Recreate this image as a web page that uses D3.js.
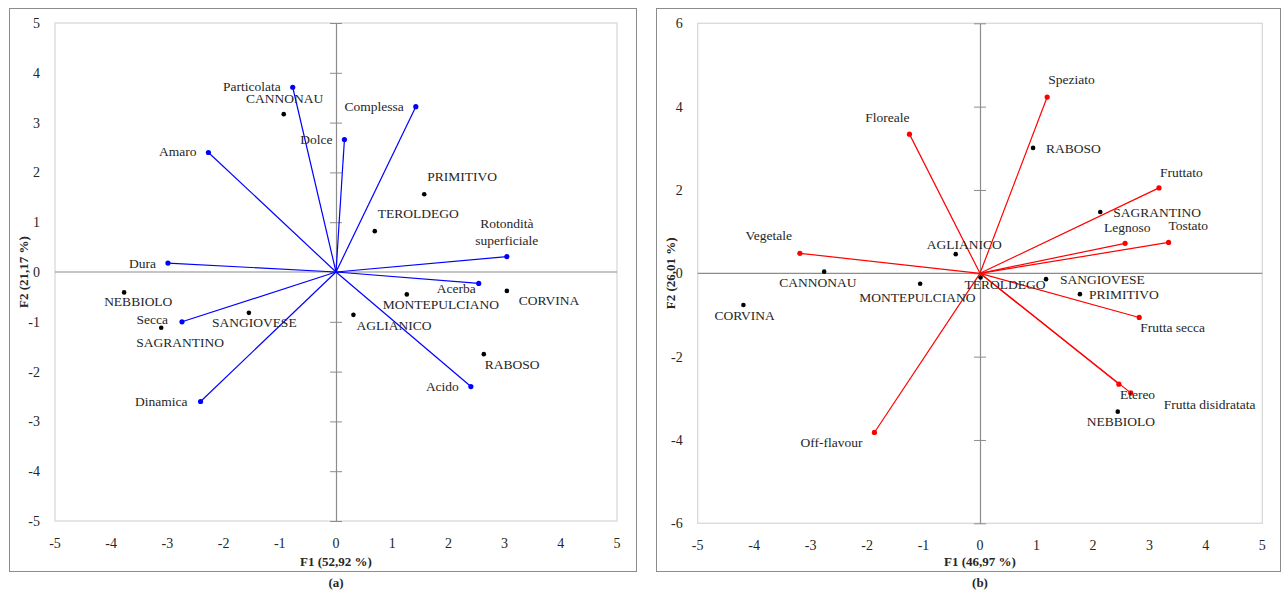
<!DOCTYPE html>
<html>
<head>
<meta charset="utf-8">
<script src="https://cdn.jsdelivr.net/npm/d3@7"></script>
<style>
  body { margin: 0; background: #fff; }
  svg text { font-family: "Liberation Serif", "Times New Roman", serif; fill: #262626; }
  .tick-label { font-size: 14px; }
  .mark-label { font-size: 13.5px; }
  .axis-title { font-size: 13px; font-weight: bold; }
</style>
</head>
<body>
<svg id="chart" width="1282" height="591"></svg>
<script>
// ---- data: panel (a) ----
const winesA = ['CANNONAU', 'PRIMITIVO', 'TEROLDEGO', 'CORVINA', 'MONTEPULCIANO',
  'AGLIANICO', 'RABOSO', 'NEBBIOLO', 'SAGRANTINO', 'SANGIOVESE']
const winesAF1 = [-0.93, 1.57, 0.69, 3.04, 1.26, 0.31, 2.63, -3.77, -3.11, -1.55]
const winesAF2 = [3.17, 1.56, 0.82, -0.38, -0.45, -0.86, -1.65, -0.41, -1.12, -0.82]

const attrsA = ['Particolata', 'Dolce', 'Complessa', 'Amaro', 'Dura',
  'Rotondità superficiale', 'Acerba', 'Acido', 'Secca', 'Dinamica']
const attrsAF1 = [-0.77, 0.15, 1.42, -2.27, -2.99, 3.04, 2.54, 2.40, -2.74, -2.41]
const attrsAF2 = [3.71, 2.66, 3.32, 2.40, 0.18, 0.31, -0.23, -2.30, -1.00, -2.60]

// ---- data: panel (b) ----
const winesB = ['RABOSO', 'SAGRANTINO', 'AGLIANICO', 'CANNONAU', 'MONTEPULCIANO',
  'TEROLDEGO', 'SANGIOVESE', 'PRIMITIVO', 'CORVINA', 'NEBBIOLO']
const winesBF1 = [0.94, 2.13, -0.43, -2.76, -1.06, 0.01, 1.17, 1.77, -4.19, 2.44]
const winesBF2 = [3.01, 1.47, 0.46, 0.04, -0.25, -0.10, -0.14, -0.50, -0.76, -3.32]

const attrsB = ['Speziato', 'Floreale', 'Fruttato', 'Legnoso', 'Tostato', 'Vegetale',
  'Frutta secca', 'Etereo', 'Frutta disidratata', 'Off-flavour']
const attrsBF1 = [1.19, -1.25, 3.17, 2.57, 3.34, -3.19, 2.82, 2.46, 2.67, -1.87]
const attrsBF2 = [4.23, 3.34, 2.05, 0.72, 0.74, 0.48, -1.06, -2.66, -2.87, -3.82]

const xTicks = [-5, -4, -3, -2, -1, 0, 1, 2, 3, 4, 5]
const yTicksA = [-5, -4, -3, -2, -1, 0, 1, 2, 3, 4, 5]
const yTicksB = [-6, -4, -2, 0, 2, 4, 6]

// label placement (anchor, dx, dy) relative to each mark, in pixels
const placeA = {
  CANNONAU: ['middle', 1, -11], PRIMITIVO: ['start', 3, -13], TEROLDEGO: ['start', 3, -13],
  CORVINA: ['start', 12, 14], MONTEPULCIANO: ['start', -24, 15], AGLIANICO: ['start', 3, 15],
  RABOSO: ['start', 1, 15], NEBBIOLO: ['start', -20, 14], SAGRANTINO: ['start', -25, 19],
  SANGIOVESE: ['start', -37, 14],
  Particolata: ['end', -12, 4], Dolce: ['end', -12, 4], Complessa: ['end', -12, 4],
  Amaro: ['end', -12, 4], Dura: ['end', -12, 5], 'Rotondità superficiale': ['middle', 0, -29],
  Acerba: ['end', -3, 10], Acido: ['end', -12, 4], Secca: ['end', -14, 2], Dinamica: ['end', -13, 5]
}
const placeB = {
  RABOSO: ['start', 13, 5], SAGRANTINO: ['start', 13, 5], AGLIANICO: ['start', -29, -5],
  CANNONAU: ['start', -45, 15], MONTEPULCIANO: ['start', -61, 18], TEROLDEGO: ['start', -16, 12],
  SANGIOVESE: ['start', 14, 5], PRIMITIVO: ['start', 9, 5], CORVINA: ['start', -29, 15],
  NEBBIOLO: ['start', -31, 14],
  Speziato: ['start', 1, -13], Floreale: ['end', 0, -12], Fruttato: ['start', 1, -11],
  Legnoso: ['start', -21, -11], Tostato: ['start', 0, -12], Vegetale: ['end', -8, -13],
  'Frutta secca': ['start', 1, 15], Etereo: ['start', 1, 15], 'Frutta disidratata': ['start', 33, 16],
  'Off-flavour': ['end', -12, 15]
}

const svg = d3.select('#chart')

function drawPanel(cfg) {
  const g = svg.append('g')

  // outer frame
  g.append('rect')
    .attr('x', cfg.frame[0] + 0.5).attr('y', cfg.frame[1] + 0.5)
    .attr('width', cfg.frame[2]).attr('height', cfg.frame[3])
    .attr('fill', 'none').attr('stroke', '#8c8c8c')

  const x = d3.scaleLinear().domain([-5, 5]).range([cfg.plot.left, cfg.plot.right])
  const y = d3.scaleLinear().domain(cfg.yDomain).range([cfg.plot.bottom, cfg.plot.top])

  // plot area border
  g.append('rect')
    .attr('x', x(-5)).attr('y', y(cfg.yDomain[1]))
    .attr('width', x(5) - x(-5)).attr('height', y(cfg.yDomain[0]) - y(cfg.yDomain[1]))
    .attr('fill', 'none').attr('stroke', '#d9d9d9').attr('stroke-width', 1.3)

  // zero lines
  g.append('line')
    .attr('x1', x(-5)).attr('x2', x(5)).attr('y1', y(0)).attr('y2', y(0))
    .attr('stroke', '#8c8c8c').attr('stroke-width', 1.2)
  const yAxis = d3.axisLeft(y).tickValues(cfg.yTicks).tickSize(6).tickFormat('').tickSizeOuter(0)
  const ya = g.append('g')
    .attr('transform', 'translate(' + x(0) + ',0)')
    .call(yAxis)
  ya.select('.domain').attr('stroke', '#8c8c8c').attr('stroke-width', 1.2)
  ya.selectAll('.tick line').attr('stroke', '#8c8c8c').attr('x1', 6).attr('x2', -6)

  // tick labels
  g.selectAll('text.xt').data(xTicks).join('text')
    .attr('class', 'tick-label xt')
    .attr('x', d => x(d)).attr('y', y(cfg.yDomain[0]) + 27)
    .attr('text-anchor', 'middle')
    .text(d => d)
  g.selectAll('text.yt').data(cfg.yTicks).join('text')
    .attr('class', 'tick-label yt')
    .attr('x', x(-5) - 15).attr('y', d => y(d) + 5)
    .attr('text-anchor', 'end')
    .text(d => d)

  // axis titles
  g.append('text').attr('class', 'axis-title')
    .attr('x', x(0)).attr('y', 566).attr('text-anchor', 'middle')
    .text(cfg.xTitle)
  g.append('text').attr('class', 'axis-title')
    .attr('transform', 'translate(' + cfg.yTitleX + ',' + y(0) + ') rotate(-90)')
    .attr('text-anchor', 'middle')
    .text(cfg.yTitle)
  g.append('text').attr('class', 'axis-title')
    .attr('x', x(0)).attr('y', 587).attr('text-anchor', 'middle')
    .text(cfg.caption)

  const attrs = cfg.attrs.map((name, i) => ({name, f1: cfg.attrsF1[i], f2: cfg.attrsF2[i]}))
  const wines = cfg.wines.map((name, i) => ({name, f1: cfg.winesF1[i], f2: cfg.winesF2[i]}))

  // vectors
  g.selectAll('line.vec').data(attrs).join('line')
    .attr('class', 'vec')
    .attr('x1', x(0)).attr('y1', y(0))
    .attr('x2', d => x(d.f1)).attr('y2', d => y(d.f2))
    .attr('stroke', cfg.colour).attr('stroke-width', 1.2)
  g.selectAll('circle.vec-end').data(attrs).join('circle')
    .attr('class', 'vec-end')
    .attr('cx', d => x(d.f1)).attr('cy', d => y(d.f2)).attr('r', 2.6)
    .attr('fill', cfg.colour)

  // wine points
  g.selectAll('circle.wine').data(wines).join('circle')
    .attr('class', 'wine')
    .attr('cx', d => x(d.f1)).attr('cy', d => y(d.f2)).attr('r', 2.3)
    .attr('fill', '#000')

  // labels
  const all = attrs.concat(wines)
  all.forEach(d => {
    const p = cfg.place[d.name]
    const t = g.append('text').attr('class', 'mark-label')
      .attr('text-anchor', p[0])
      .attr('x', x(d.f1) + p[1]).attr('y', y(d.f2) + p[2])
    const parts = d.name === 'Rotondità superficiale' ? ['Rotondità', 'superficiale'] : [d.name]
    parts.forEach((s, i) => {
      t.append('tspan').attr('x', x(d.f1) + p[1]).attr('dy', i === 0 ? 0 : 17).text(s)
    })
  })
}

drawPanel({
  frame: [9, 8, 627, 563],
  plot: {left: 55, right: 617, top: 23, bottom: 521},
  yDomain: [-5, 5], yTicks: yTicksA,
  xTitle: 'F1 (52,92 %)', yTitle: 'F2 (21,17 %)', yTitleX: 28, caption: '(a)',
  colour: '#0000ff',
  wines: winesA, winesF1: winesAF1, winesF2: winesAF2,
  attrs: attrsA, attrsF1: attrsAF1, attrsF2: attrsAF2,
  place: placeA
})

drawPanel({
  frame: [656, 8, 624, 563],
  plot: {left: 697.7, right: 1262.3, top: 23.3, bottom: 523.3},
  yDomain: [-6, 6], yTicks: yTicksB,
  xTitle: 'F1 (46,97 %)', yTitle: 'F2 (26,01 %)', yTitleX: 675, caption: '(b)',
  colour: '#ff0000',
  wines: winesB, winesF1: winesBF1, winesF2: winesBF2,
  attrs: attrsB, attrsF1: attrsBF1, attrsF2: attrsBF2,
  place: placeB
})
</script>
</body>
</html>
